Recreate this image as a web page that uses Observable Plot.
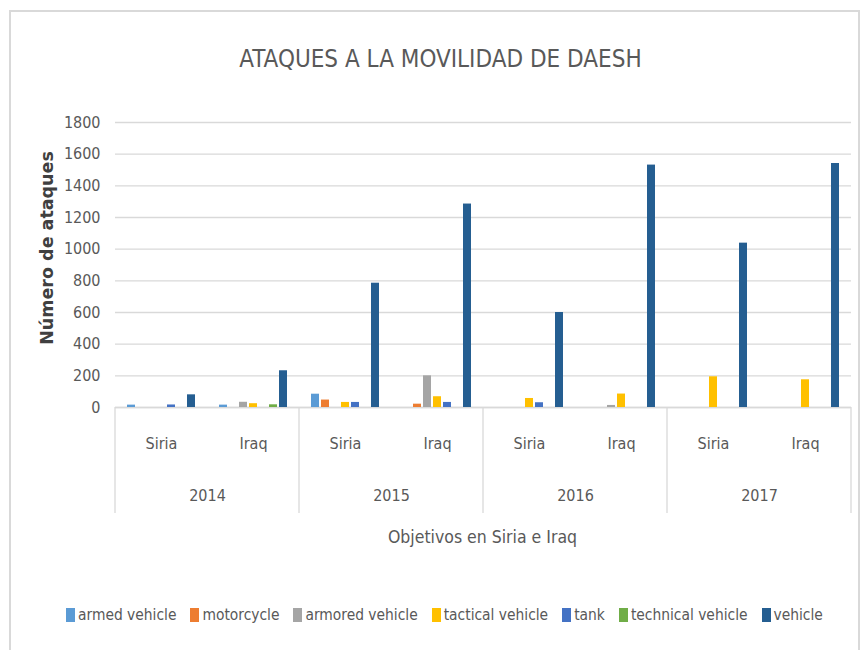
<!DOCTYPE html>
<html>
<head>
<meta charset="utf-8">
<script src="https://cdn.jsdelivr.net/npm/d3@7"></script>
<script src="https://cdn.jsdelivr.net/npm/@observablehq/plot@0.6"></script>
<style>
  body { margin: 0; background: #fff; }
  #wrap { position: relative; width: 865px; height: 650px; overflow: hidden; background: #fff;
          font-family: "DejaVu Sans Condensed", "DejaVu Sans", sans-serif; color: #595959; }
  #border { position: absolute; left: 9px; top: 10px; width: 851px; height: 700px; border: 2px solid #d9d9d9; box-sizing: border-box; }
  #title { position: absolute; left: 0; top: 44px; width: 881px; text-align: center; font-size: 24px; line-height: 30px; white-space: nowrap; }
  #ytitle { position: absolute; left: 47px; top: 248px; transform: translate(-50%, -50%) rotate(-90deg);
            font-family: "DejaVu Sans", sans-serif; font-weight: bold; font-size: 17.5px; color: #404040; white-space: nowrap; }
  #xtitle { position: absolute; left: 0; top: 525px; width: 965px; text-align: center; font-size: 17.5px; line-height: 24px; white-space: nowrap; }
  #chart { position: absolute; left: 0; top: 100px; }
  #legend { position: absolute; left: 66px; top: 603px; display: flex; align-items: center; gap: 14px; font-size: 16px; line-height: 24px; white-space: nowrap; }
  #legend .item { display: flex; align-items: center; }
  #legend .sw { display: inline-block; width: 9px; height: 14px; margin-right: 3px; }
</style>
</head>
<body>
<div id="wrap">
  <div id="border"></div>
  <div id="title">ATAQUES A LA MOVILIDAD DE DAESH</div>
  <div id="chart"></div>
  <div id="ytitle">Número de ataques</div>
  <div id="xtitle">Objetivos en Siria e Iraq</div>
  <div id="legend"></div>
</div>
<script>
// ---- data ----
const years = ["2014", "2015", "2016", "2017"];
const countries = ["Siria", "Iraq"];
const seriesNames = ["armed vehicle", "motorcycle", "armored vehicle", "tactical vehicle", "tank", "technical vehicle", "vehicle"];
const seriesColors = ["#5B9BD5", "#ED7D31", "#A5A5A5", "#FFC000", "#4472C4", "#70AD47", "#255E91"];
// values per group, order: 2014 Siria, 2014 Iraq, 2015 Siria, 2015 Iraq, 2016 Siria, 2016 Iraq, 2017 Siria, 2017 Iraq
const armedVehicle     = [15, 15, 84, 0, 0, 0, 0, 0];
const motorcycle       = [0, 0, 47, 21, 0, 0, 0, 0];
const armoredVehicle   = [0, 33, 0, 200, 0, 13, 0, 0];
const tacticalVehicle  = [0, 24, 32, 68, 57, 85, 194, 175];
const tank             = [16, 0, 32, 32, 30, 0, 0, 0];
const technicalVehicle = [0, 17, 0, 0, 0, 0, 0, 0];
const vehicle          = [80, 232, 785, 1285, 600, 1531, 1038, 1541];
const yTicks = [0, 200, 400, 600, 800, 1000, 1200, 1400, 1600, 1800];

const seriesValues = [armedVehicle, motorcycle, armoredVehicle, tacticalVehicle, tank, technicalVehicle, vehicle];
const groups = years.flatMap(y => countries.map(c => ({year: y, country: c, key: y + "|" + c})));
const keys = groups.map(g => g.key);
const table = [];
groups.forEach((g, gi) => {
  seriesNames.forEach((s, si) => {
    table.push({key: g.key, series: s, value: seriesValues[si][gi]});
  });
});

const font = '"DejaVu Sans Condensed", "DejaVu Sans", sans-serif';
const chart = Plot.plot({
  width: 865,
  height: 440,
  marginTop: 22,
  marginBottom: 133,
  marginLeft: 112,
  marginRight: 12,
  style: {fontFamily: font, color: "#595959", background: "transparent"},
  fx: {domain: keys, padding: 0, axis: null},
  x: {domain: seriesNames, paddingInner: 0.2, paddingOuter: 0.8, axis: null},
  y: {domain: [0, 1800]},
  color: {domain: seriesNames, range: seriesColors},
  marks: [
    Plot.gridY(yTicks, {stroke: "#d9d9d9", strokeOpacity: 1, strokeWidth: 1.3}),
    Plot.ruleY([0], {stroke: "#d9d9d9", strokeWidth: 1.5}),
    Plot.axisY(yTicks, {tickSize: 0, tickPadding: 15, fontSize: 16, fill: "#595959", label: null, tickFormat: d => String(d)}),
    Plot.barY(table, {fx: "key", x: "series", y: "value", fill: "series"}),
    Plot.text(groups, {fx: "key", text: "country", frameAnchor: "bottom", lineAnchor: "middle", dy: 36, fontSize: 16, fill: "#595959"}),
    Plot.text(groups.filter(g => g.country === "Siria"), {fx: "key", text: "year", frameAnchor: "bottom-right", textAnchor: "middle", lineAnchor: "middle", dy: 88, fontSize: 16, fill: "#595959"})
  ]
});
document.getElementById("chart").appendChild(chart);

// category-group separators of the multi-level axis, placed with Plot's fx scale
const fxs = chart.scale("fx");
const ys = chart.scale("y");
const bw = fxs.bandwidth;
const edges = years.map(y => fxs.apply(y + "|Siria")).concat([fxs.apply(keys[keys.length - 1]) + bw]);
const y0 = ys.apply(0);
d3.select(chart).append("g")
  .selectAll("line").data(edges).join("line")
  .attr("x1", d => d).attr("x2", d => d)
  .attr("y1", y0).attr("y2", y0 + 106)
  .attr("stroke", "#d9d9d9").attr("stroke-width", 1.3);

// legend
const legendEl = document.getElementById("legend");
const legend = d3.select(legendEl);
seriesNames.forEach((s, i) => {
  const it = legend.append("div").attr("class", "item");
  it.append("span").attr("class", "sw").style("background", seriesColors[i]);
  it.append("span").text(s);
});
// fit legend to the reference span (66 → 823 px)
const targetW = 757;
let fs = 16;
for (let k = 0; k < 4; k++) {
  const w = legendEl.getBoundingClientRect().width;
  const textW = w - 6 * 14 - 7 * 12;
  fs = fs * (targetW - 6 * 14 - 7 * 12) / textW;
  legendEl.style.fontSize = fs + "px";
}
</script>
</body>
</html>
